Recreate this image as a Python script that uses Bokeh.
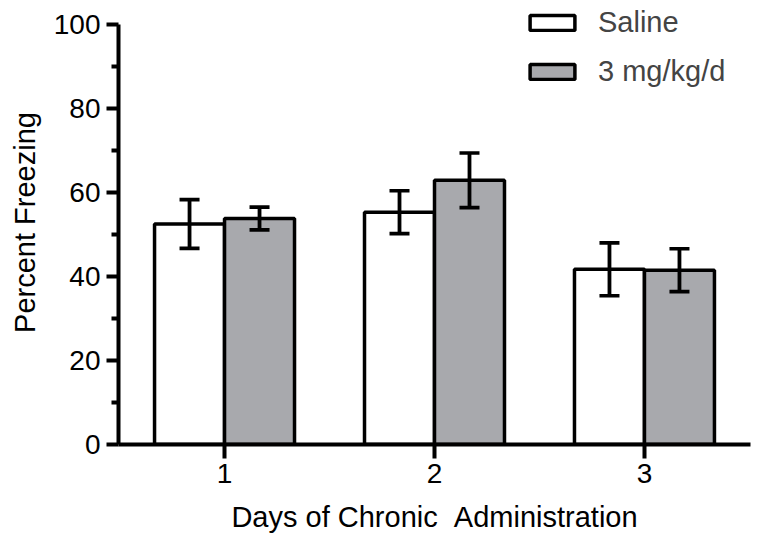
from bokeh.plotting import figure
from bokeh.models import (ColumnDataSource, Whisker, TeeHead, Legend, LegendItem,
                          FixedTicker, Range1d)
from bokeh.embed import file_html
from bokeh.resources import INLINE

days = [1, 2, 3]
saline_mean = [52.5, 55.3, 41.7]
saline_err = [5.8, 5.1, 6.3]
drug_mean = [53.8, 62.9, 41.5]
drug_err = [2.7, 6.5, 5.1]
series_names = ["Saline", "3 mg/kg/d"]
y_major = [0, 20, 40, 60, 80, 100]
y_minor = [10, 30, 50, 70, 90]
x_label = "Days of Chronic \u00a0Administration"
y_label = "Percent Freezing"

FONT = "Liberation Sans"
GRAY = "#a8a9ad"
BAR_W = 1 / 3
LW = 3.5
AXW = 4

def make_src(xoff, mean, err):
    return ColumnDataSource(dict(
        x=[d + xoff for d in days],
        top=mean,
        upper=[m + e for m, e in zip(mean, err)],
        lower=[m - e for m, e in zip(mean, err)],
    ))

src_s = make_src(-BAR_W / 2, saline_mean, saline_err)
src_d = make_src(BAR_W / 2, drug_mean, drug_err)

p = figure(width=764, height=548, output_backend="svg", toolbar_location=None,
           x_range=Range1d(0.495, 3.505), y_range=Range1d(0, 105.7),
           min_border_left=118, min_border_right=14, min_border_top=0,
           min_border_bottom=104)
p.outline_line_color = None
p.xgrid.visible = False
p.ygrid.visible = False
p.background_fill_color = "white"
p.border_fill_color = "white"

r1 = p.vbar(x="x", top="top", width=BAR_W, bottom=0, source=src_s,
            fill_color="white", line_color="black", line_width=LW)
r2 = p.vbar(x="x", top="top", width=BAR_W, bottom=0, source=src_d,
            fill_color=GRAY, line_color="black", line_width=LW)

for src in (src_s, src_d):
    w = Whisker(base="x", upper="upper", lower="lower", source=src,
                line_color="black", line_width=3.8, level="annotation",
                upper_head=TeeHead(size=20, line_width=3.6, line_color="black"),
                lower_head=TeeHead(size=20, line_width=3.6, line_color="black"))
    p.add_layout(w)

# axes
yax = p.yaxis[0]
yax.ticker = FixedTicker(ticks=y_major, minor_ticks=y_minor)
yax.bounds = (0, 100)
xax = p.xaxis[0]
xax.ticker = FixedTicker(ticks=days, minor_ticks=[])

for ax in (xax, yax):
    ax.axis_line_width = AXW
    ax.axis_line_color = "black"
    ax.major_tick_line_width = AXW
    ax.major_tick_line_color = "black"
    ax.minor_tick_line_width = AXW
    ax.minor_tick_line_color = "black"
    ax.major_tick_in = 0
    ax.minor_tick_in = 0
    ax.major_label_text_font = FONT
    ax.major_label_text_font_size = "28px"
    ax.major_label_text_color = "black"
    ax.axis_label_text_font = FONT
    ax.axis_label_text_font_size = "29px"
    ax.axis_label_text_font_style = "normal"
    ax.axis_label_text_color = "black"

yax.major_tick_out = 12
yax.minor_tick_out = 7
yax.major_label_standoff = 6
yax.axis_label = y_label
yax.axis_label_standoff = 10

xax.major_tick_out = 14
xax.minor_tick_out = 0
xax.major_label_standoff = 5
xax.axis_label = x_label
xax.axis_label_standoff = 15

legend = Legend(items=[LegendItem(label=series_names[0], renderers=[r1]),
                       LegendItem(label=series_names[1], renderers=[r2])],
                location="top_right", margin=6, padding=0,
                glyph_width=56, glyph_height=19, label_standoff=18,
                label_width=146, spacing=16,
                label_text_font=FONT, label_text_font_size="29px",
                border_line_color=None, background_fill_alpha=0)
p.add_layout(legend)

open("out.html", "w").write(file_html(p, INLINE))
